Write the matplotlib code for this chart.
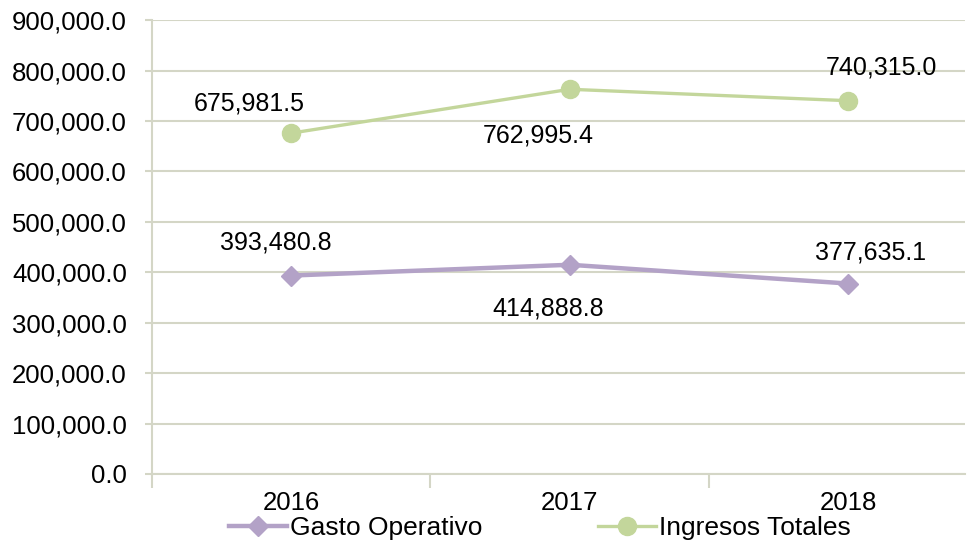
import matplotlib.pyplot as plt
from matplotlib.ticker import FuncFormatter, FixedLocator

plt.rcParams['font.family'] = ['Liberation Sans', 'DejaVu Sans']

years = ['2016', '2017', '2018']
gasto = [393480.8, 414888.8, 377635.1]
ingresos = [675981.5, 762995.4, 740315.0]

purple = '#B3A2C7'
green = '#C3D69B'
grid_c = '#D4D6C6'

fig = plt.figure(figsize=(9.74, 5.46), dpi=100)
ax = fig.add_axes([0.156, 0.132, 0.835, 0.831])

x = list(range(len(years)))
ax.plot(x, gasto, color=purple, lw=3.2, marker='D', ms=10, label='Gasto Operativo', zorder=3)
ax.plot(x, ingresos, color=green, lw=2.4, marker='o', ms=13, label='Ingresos Totales', zorder=3)

# data labels (pixel offsets from the point)
g_off = [(-15, 33), (-22, -44), (22, 31)]
i_off = [(-42, 30), (-31, -46), (33, 33)]
for xi, v, o in zip(x, gasto, g_off):
    ax.annotate(f'{v:,.1f}', (xi, v), xytext=o, textcoords='offset pixels',
                ha='center', va='center', fontsize=18)
for xi, v, o in zip(x, ingresos, i_off):
    ax.annotate(f'{v:,.1f}', (xi, v), xytext=o, textcoords='offset pixels',
                ha='center', va='center', fontsize=18)

ax.set_ylim(0, 900000)
ax.set_xlim(-0.5, 2.42)
ax.set_yticks(range(0, 900001, 100000))
ax.yaxis.set_major_formatter(FuncFormatter(lambda v, p: f'{v:,.1f}'))
ax.yaxis.grid(True, color=grid_c, lw=1.5)
ax.set_axisbelow(True)

ax.set_xticks(x)
ax.set_xticklabels(years)
ax.xaxis.set_minor_locator(FixedLocator([-0.5, 0.5, 1.5]))
ax.tick_params(axis='x', which='major', length=0, labelsize=18.5, pad=12)
ax.tick_params(axis='x', which='minor', length=10, color=grid_c, width=1.5)
ax.tick_params(axis='y', length=5, color=grid_c, width=1.5, labelsize=18.5, pad=13)

for s in ['top', 'right']:
    ax.spines[s].set_visible(False)
for s in ['left', 'bottom']:
    ax.spines[s].set_color(grid_c)
    ax.spines[s].set_linewidth(1.5)

fig.legend(loc='center', bbox_to_anchor=(540 / 974, 1 - 528 / 546), ncol=2,
           frameon=False, fontsize=19, handlelength=2.2, handletextpad=0.1,
           columnspacing=4.4, borderaxespad=0)

fig.savefig('out.png', dpi=100)
